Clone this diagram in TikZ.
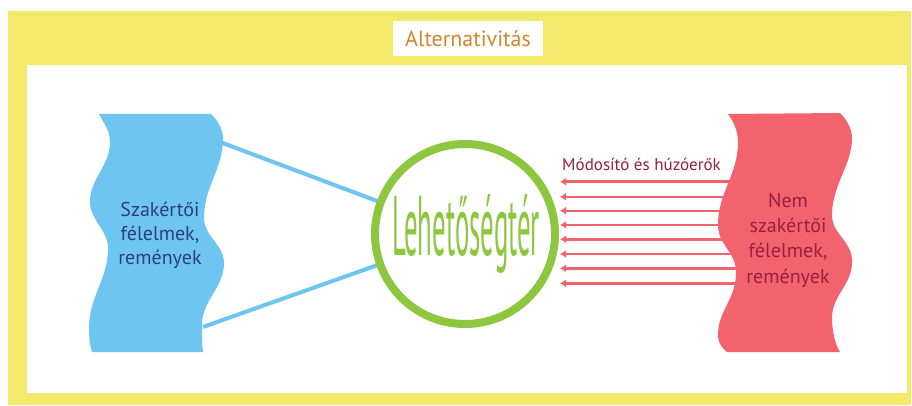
\documentclass[tikz,border=0pt]{standalone}
\usepackage{fontspec}
\usepackage{graphicx}
\setmainfont{PT Sans}
\usetikzlibrary{arrows.meta}
\pgfdeclarelayer{backmost}
\pgfdeclarelayer{links}
\pgfsetlayers{backmost,links,main}
\definecolor{frameyellow}{HTML}{F4E96A}
\definecolor{waveblue}{HTML}{6EC6F0}
\definecolor{wavepink}{HTML}{F2636E}
\definecolor{ringgreen}{HTML}{8DC63F}
\definecolor{titleorange}{HTML}{D4862A}
\definecolor{navytext}{HTML}{2C3E7D}
\definecolor{maroontext}{HTML}{9B1F3F}
\tikzset{
  bluelink/.style={draw=waveblue, line width=4pt},
  forcearrow/.style={draw=wavepink, line width=2.4pt, -{Latex[length=6pt,width=8pt]}},
  wavetext/.style={align=center, inner sep=0pt, font=\fontsize{20}{24}\selectfont},
}
\begin{document}
\begin{tikzpicture}[x=1pt,y=-1pt]
\useasboundingbox (0,0) rectangle (912,406);
\begin{pgfonlayer}{backmost}
\fill[white] (0,0) rectangle (912,406);
\fill[frameyellow] (8,11) rectangle (911,405);
\fill[white] (27,65) rectangle (907,393);
\end{pgfonlayer}
\node[fill=white, minimum width=150pt, minimum height=35pt, inner sep=0pt,
      text=titleorange, font=\fontsize{22}{22}\selectfont] (title) at (468,38.5) {Alternativitás};
% force arrows (behind pink shape)
\foreach \i/\yy in {1/181.7,2/196.7,3/210.7,4/225,5/239.3,6/254,7/268.3,8/283.3}{
  \coordinate (s\i) at (748,\yy);
  \coordinate (t\i) at (560,\yy);
  \draw[forcearrow] (s\i) -- (t\i);
}
% blue wave
\fill[waveblue] (99,114) .. controls (103,122) and (110,130) .. (110,142)
 .. controls (110,166) and (90,178) .. (90,202)
 .. controls (90,220) and (108,230) .. (108,248)
 .. controls (108,280) and (89,296) .. (89,328)
 .. controls (89,340) and (90,346) .. (92,352)
 -- (203,352)
 .. controls (202,344) and (202,335) .. (202,325)
 .. controls (202,300) and (224,288) .. (224,263)
 .. controls (224,245) and (204,236) .. (204,218)
 .. controls (204,186) and (223,170) .. (223,138)
 .. controls (223,128) and (216,119) .. (211,114) -- cycle;
% pink wave
\fill[wavepink] (728,114) .. controls (733,121) and (738,130) .. (738,142)
 .. controls (738,175) and (718,192) .. (718,225)
 .. controls (718,245) and (736,252) .. (736,272)
 .. controls (736,300) and (718,310) .. (718,335)
 .. controls (718,343) and (722,348) .. (727,352)
 -- (840,352)
 .. controls (835,345) and (832,330) .. (832,318)
 .. controls (832,295) and (852,285) .. (852,262)
 .. controls (852,240) and (832,235) .. (832,215)
 .. controls (832,185) and (852,165) .. (852,138)
 .. controls (852,128) and (846,119) .. (840,113) -- cycle;
% circle and links
\node[circle, draw=ringgreen, line width=8pt, fill=white, minimum size=180pt, inner sep=0pt] (ring) at (465,234) {};
\coordinate (bu) at (220,142);
\coordinate (bl) at (203,327);
\begin{pgfonlayer}{links}
\draw[bluelink] (bu) -- (ring.center);
\draw[bluelink] (bl) -- (ring.center);
\end{pgfonlayer}
\node[anchor=base, inner sep=0pt, text=ringgreen] (space) at (466,255)
  {\resizebox{148pt}{61pt}{\fontsize{40}{40}\selectfont Lehetőségtér}};
% texts
\node[wavetext, text=navytext] (expert) at (160,235.5) {Szakértői\\félelmek,\\remények};
\node[wavetext, text=maroontext, font=\fontsize{20}{25.3}\selectfont] (nonexpert) at (788,240) {Nem\\szakértői\\félelmek,\\remények};
\node[anchor=base west, inner sep=0pt, text=maroontext, font=\fontsize{17}{17}\selectfont] (forces) at (562,171) {Módosító és húzóerők};
\end{tikzpicture}
\end{document}
